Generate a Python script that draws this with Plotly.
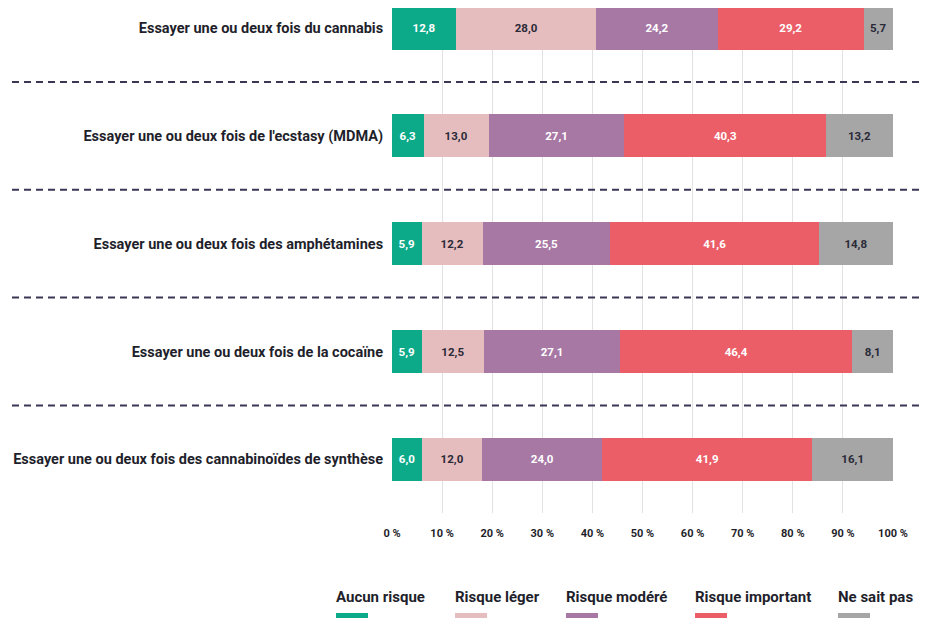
import plotly.graph_objects as go

# Data
categories = [
    "Essayer une ou deux fois du cannabis",
    "Essayer une ou deux fois de l'ecstasy (MDMA)",
    "Essayer une ou deux fois des amphétamines",
    "Essayer une ou deux fois de la cocaïne",
    "Essayer une ou deux fois des cannabinoïdes de synthèse",
]
series_names = ["Aucun risque", "Risque léger", "Risque modéré", "Risque important", "Ne sait pas"]
aucun_risque = [12.8, 6.3, 5.9, 5.9, 6.0]
risque_leger = [28.0, 13.0, 12.2, 12.5, 12.0]
risque_modere = [24.2, 27.1, 25.5, 27.1, 24.0]
risque_important = [29.2, 40.3, 41.6, 46.4, 41.9]
ne_sait_pas = [5.7, 13.2, 14.8, 8.1, 16.1]
tick_values = [0, 10, 20, 30, 40, 50, 60, 70, 80, 90, 100]
tick_labels = [f"{v} %" for v in tick_values]

values = [aucun_risque, risque_leger, risque_modere, risque_important, ne_sait_pas]

# Style
colors = ["#0DAA8A", "#E6BDBE", "#A878A5", "#EB5E67", "#A6A6A6"]
label_colors = ["white", "#2A2A38", "white", "white", "#2A2A38"]
FONT = "Roboto, Lato, sans-serif"
TEXT = "#1F1F2C"

# the page adds an 8px body margin, so the figure is 8px smaller than the window
W, H = 923, 620
ML, MR, MT, MB = 384, 38, 0, 115
plot_w = W - ML - MR
plot_h = H - MT - MB

fig = go.Figure()
for name, vals, col, lcol in zip(series_names, values, colors, label_colors):
    fig.add_trace(go.Bar(
        y=categories, x=vals, name=name, orientation="h",
        marker=dict(color=col, line=dict(width=0)),
        texttemplate="%{x:.1f}", textposition="inside", textangle=0,
        insidetextanchor="middle",
        insidetextfont=dict(family=FONT, size=11.5, color=lcol, weight="bold"),
        hovertemplate="%{y}<br>" + name + " : %{x:.1f} %<extra></extra>",
        showlegend=False,
    ))

# Dashed separators between rows
for i in range(len(categories) - 1):
    fig.add_shape(type="line", xref="paper", yref="y",
                  x0=(4 - ML) / plot_w, x1=(922 - ML) / plot_w,
                  y0=i + 0.5, y1=i + 0.5,
                  line=dict(color="#3B3654", width=2, dash="7px,5px"))

# Custom legend: text with coloured bar underneath
legend_x_px = [328, 447, 558, 687, 830]
for name, col, px in zip(series_names, colors, legend_x_px):
    xp = (px - ML) / plot_w
    fig.add_annotation(xref="paper", yref="paper", x=xp, y=(plot_h - 589) / plot_h,
                       text=name, showarrow=False, xanchor="left", yanchor="middle",
                       xshift=-2,
                       font=dict(family=FONT, size=15, color=TEXT, weight="bold"))
    fig.add_shape(type="rect", xref="paper", yref="paper",
                  x0=xp, x1=xp + 32 / plot_w,
                  y0=(plot_h - 605) / plot_h, y1=(plot_h - 610) / plot_h,
                  fillcolor=col, line=dict(width=0))

fig.update_layout(
    barmode="stack",
    bargap=0.6,
    width=W, height=H,
    margin=dict(l=ML, r=MR, t=MT, b=MB),
    paper_bgcolor="white", plot_bgcolor="white",
    separators=", ",
    font=dict(family=FONT, color=TEXT, weight="bold"),
)
fig.update_xaxes(
    range=[0, 100], tickvals=tick_values, ticktext=tick_labels,
    showgrid=True, gridcolor="#E2E2E2", gridwidth=1,
    zeroline=False, showline=False, automargin=False,
    ticks="outside", ticklen=10, tickcolor="rgba(0,0,0,0)",
    tickfont=dict(family=FONT, size=11, color=TEXT, weight="bold"),
)
fig.update_yaxes(
    range=[4.497, -0.185], showgrid=False, zeroline=False, showline=False,
    automargin=False,
    ticks="outside", ticklen=5, tickcolor="rgba(0,0,0,0)",
    tickfont=dict(family=FONT, size=14.5, color=TEXT, weight="bold"),
)

fig.write_html("out.html")
